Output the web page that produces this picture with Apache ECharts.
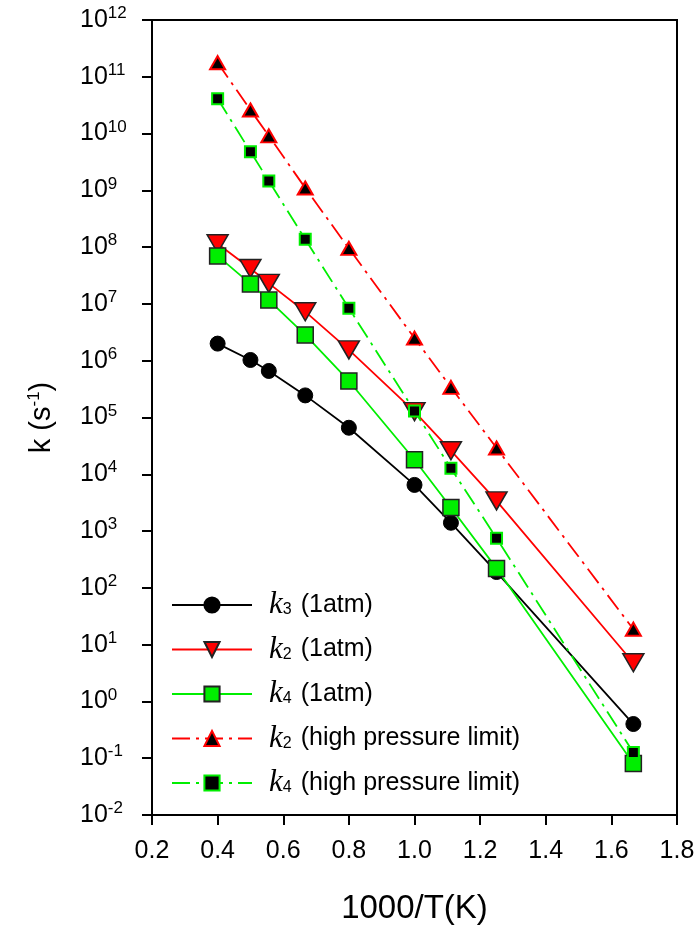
<!DOCTYPE html>
<html>
<head>
<meta charset="utf-8">
<script src="https://cdn.jsdelivr.net/npm/echarts@6/dist/echarts.min.js"></script>
<style>
  html, body { margin: 0; padding: 0; background: #fff; }
  #chart { width: 699px; height: 926px; }
</style>
</head>
<body>
<div id="chart"></div>
<script>
// 1000/T values (T = 2500, 2000, 1800, 1500, 1250, 1000, 900, 800, 600 K)
var invT = [0.4, 0.5, 0.556, 0.667, 0.8, 1.0, 1.111, 1.25, 1.667]

var k3_1atm = [2.0e6, 1.03e6, 6.6e5, 2.45e5, 6.6e4, 6.5e3, 1.4e3, 190, 0.40]
var k2_1atm = [1.15e8, 4.2e7, 2.3e7, 7.3e6, 1.55e6, 1.27e5, 2.6e4, 3.4e3, 4.8]
var k4_1atm = [7.0e7, 2.25e7, 1.17e7, 2.85e6, 4.4e5, 1.8e4, 2.6e3, 220, 0.081]
var k2_hpl = [1.77e11, 2.6e10, 9.1e9, 1.1e9, 9.5e7, 2.5e6, 3.4e5, 2.9e4, 18.7]
var k4_hpl = [4.1e10, 4.8e9, 1.46e9, 1.38e8, 8.4e6, 1.3e5, 1.28e4, 750, 0.126]

var GREEN = "#00ee00"
var RED = "#ff0000"

function pairs(ys) {
  return invT.map((x, i) => [x, ys[i]])
}

// 图例文字: 斜体 k + 下标
var legendText = {
  "k3 (1atm)": "{k|k}{s|3}{t|(1atm)}",
  "k2 (1atm)": "{k|k}{s|2}{t|(1atm)}",
  "k4 (1atm)": "{k|k}{s|4}{t|(1atm)}",
  "k2 (high pressure limit)": "{k|k}{s|2}{t|(high pressure limit)}",
  "k4 (high pressure limit)": "{k|k}{s|4}{t|(high pressure limit)}"
}

var chart = echarts.init(document.getElementById("chart"))
chart.setOption({
  animation: false,
  grid: { left: 152, right: 22, top: 20, bottom: 111, outerBoundsMode: "none", containLabel: false },
  legend: {
    orient: "vertical",
    left: 166,
    top: 583,
    itemWidth: 80,
    itemHeight: 19,
    itemGap: 12,
    data: ["k3 (1atm)", "k2 (1atm)", "k4 (1atm)", "k2 (high pressure limit)", "k4 (high pressure limit)"],
    formatter: name => legendText[name],
    textStyle: {
      padding: [0, 0, 0, 12],
      rich: {
        k: { fontFamily: "Liberation Serif", fontStyle: "italic", fontSize: 31, color: "#000", lineHeight: 26 },
        s: { fontFamily: "Liberation Sans", fontSize: 16, color: "#000", lineHeight: 26, verticalAlign: "bottom", padding: [14, 9, 0, 0] },
        t: { fontFamily: "Liberation Sans", fontSize: 25, color: "#000", lineHeight: 26 }
      }
    }
  },
  xAxis: {
    type: "value",
    min: 0.2,
    max: 1.8,
    interval: 0.2,
    name: "1000/T(K)",
    nameLocation: "middle",
    nameGap: 77,
    nameTextStyle: { fontFamily: "Liberation Sans", fontSize: 33, color: "#000" },
    axisLine: { onZero: false, lineStyle: { color: "#000", width: 2 } },
    axisTick: { inside: false, length: 10, lineStyle: { color: "#000", width: 2 } },
    axisLabel: {
      margin: 24,
      fontFamily: "Liberation Sans",
      fontSize: 25,
      color: "#000",
      formatter: v => v.toFixed(1)
    },
    splitLine: { show: false }
  },
  yAxis: {
    type: "log",
    logBase: 10,
    min: 0.01,
    max: 1e12,
    interval: 1,
    name: "{n|k (s}{p|-1}{n|)}",
    nameLocation: "middle",
    nameGap: 95,
    nameTextStyle: {
      rich: {
        n: { fontFamily: "Liberation Sans", fontSize: 29, color: "#000" },
        p: { fontFamily: "Liberation Sans", fontSize: 17, color: "#000", verticalAlign: "top", padding: [0, 0, 14, 0] }
      }
    },
    axisLine: { lineStyle: { color: "#000", width: 2 } },
    axisTick: { length: 10, lineStyle: { color: "#000", width: 2 } },
    axisLabel: {
      margin: 72,
      align: "left",
      formatter: v => "{b|10}{e|" + Math.round(Math.log10(v)) + "}",
      rich: {
        b: { fontFamily: "Liberation Sans", fontSize: 25, color: "#000" },
        e: { fontFamily: "Liberation Sans", fontSize: 17, color: "#000", verticalAlign: "top", padding: [0, 0, 13, 0] }
      }
    },
    splitLine: { show: false }
  },
  graphic: [
    {
      type: "rect",
      shape: { x: 152, y: 20, width: 525, height: 795 },
      style: { fill: "none", stroke: "#000", lineWidth: 2 },
      silent: true,
      z: -1
    }
  ],
  series: [
    {
      name: "k3 (1atm)",
      type: "line",
      data: pairs(k3_1atm),
      symbol: "circle",
      symbolSize: 15,
      itemStyle: { color: "#000", borderColor: "#000", borderWidth: 1 },
      lineStyle: { color: "#000", width: 1.8 }
    },
    {
      name: "k2 (1atm)",
      type: "line",
      data: pairs(k2_1atm),
      symbol: "triangle",
      symbolRotate: 180,
      symbolSize: [21, 18],
      itemStyle: { color: RED, borderColor: "#222", borderWidth: 1.5 },
      lineStyle: { color: RED, width: 1.8 }
    },
    {
      name: "k4 (1atm)",
      type: "line",
      data: pairs(k4_1atm),
      symbol: "rect",
      symbolSize: 16,
      itemStyle: { color: GREEN, borderColor: "#222", borderWidth: 1.5 },
      lineStyle: { color: GREEN, width: 1.8 }
    },
    {
      name: "k2 (high pressure limit)",
      type: "line",
      data: pairs(k2_hpl),
      symbol: "triangle",
      symbolSize: [15, 13],
      itemStyle: { color: "#000", borderColor: RED, borderWidth: 2 },
      lineStyle: { color: RED, width: 1.8, type: [18, 6, 3, 6] }
    },
    {
      name: "k4 (high pressure limit)",
      type: "line",
      data: pairs(k4_hpl),
      symbol: "rect",
      symbolSize: 11,
      itemStyle: { color: "#000", borderColor: GREEN, borderWidth: 2 },
      lineStyle: { color: GREEN, width: 1.8, type: [18, 6, 3, 6] }
    }
  ]
})
</script>
</body>
</html>
